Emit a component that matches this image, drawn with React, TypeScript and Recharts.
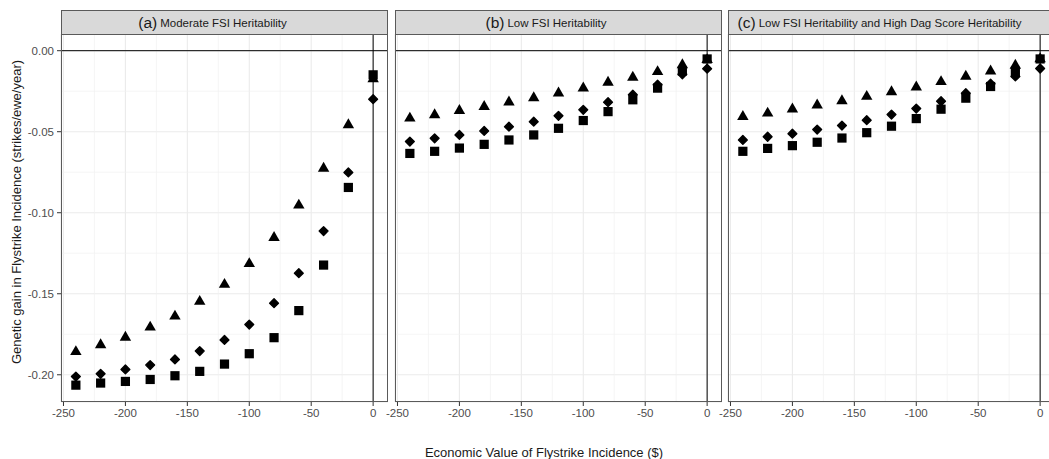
import React from "react";
import {
  CartesianGrid,
  ReferenceLine,
  Scatter,
  ScatterChart,
  XAxis,
  YAxis,
} from "recharts";

// economic value of flystrike incidence ($)
const economicValues = [-240, -220, -200, -180, -160, -140, -120, -100, -80, -60, -40, -20, 0];

// (a) moderate FSI heritability
const aTriangle = [-0.1858, -0.1816, -0.1769, -0.1707, -0.1639, -0.1548, -0.1443, -0.1315, -0.1154, -0.0954, -0.0726, -0.0458, -0.0175];
const aDiamond = [-0.2011, -0.1994, -0.1967, -0.194, -0.1905, -0.1854, -0.1785, -0.169, -0.1558, -0.1373, -0.1113, -0.0751, -0.0299];
const aSquare = [-0.2064, -0.2051, -0.2041, -0.2029, -0.2006, -0.1979, -0.1934, -0.187, -0.1771, -0.1604, -0.1323, -0.0844, -0.0149];

// (b) low FSI heritability
const bTriangle = [-0.0417, -0.0396, -0.037, -0.0345, -0.0318, -0.0291, -0.0262, -0.0231, -0.0196, -0.0165, -0.013, -0.0088, -0.0056];
const bDiamond = [-0.0561, -0.0541, -0.052, -0.0495, -0.0469, -0.0438, -0.0402, -0.0365, -0.0318, -0.0272, -0.021, -0.0146, -0.0111];
const bSquare = [-0.0634, -0.0621, -0.0601, -0.0578, -0.0551, -0.052, -0.0479, -0.0431, -0.0376, -0.0303, -0.0231, -0.0125, -0.0051];

// (c) low FSI heritability and high dag score heritability
const cTriangle = [-0.0407, -0.0386, -0.0361, -0.0336, -0.031, -0.0283, -0.0254, -0.0225, -0.0192, -0.0159, -0.0126, -0.0091, -0.0051];
const cDiamond = [-0.0551, -0.0531, -0.0512, -0.0487, -0.0462, -0.0429, -0.0394, -0.0357, -0.0312, -0.0262, -0.0204, -0.0159, -0.011];
const cSquare = [-0.0621, -0.0603, -0.0586, -0.0565, -0.0539, -0.0506, -0.0466, -0.0419, -0.0361, -0.0293, -0.0221, -0.0128, -0.0051];

const xTicks = [-250, -200, -150, -100, -50, 0];
const xMinor = [-225, -175, -125, -75, -25];
const yTicks = [-0.2, -0.15, -0.1, -0.05, 0];
const yMinor = [-0.175, -0.125, -0.075, -0.025];

const FONT = "'Liberation Sans', Arial, sans-serif";
const PANEL_W = 327;
const PLOT_TOP = 34;
const PLOT_BOTTOM = 402;

const toPoints = (ys: number[]) => economicValues.map((x, i) => ({ x, y: ys[i] }));

const Tri = (p: any) => {
  const { cx, cy } = p;
  const r = 6.6;
  return (
    <polygon
      points={`${cx},${cy - r} ${cx + r * 0.866},${cy + r / 2} ${cx - r * 0.866},${cy + r / 2}`}
      fill="#000"
    />
  );
};

const Dia = (p: any) => {
  const { cx, cy } = p;
  const r = 4.4;
  return (
    <polygon
      points={`${cx},${cy - r} ${cx + r},${cy} ${cx},${cy + r} ${cx - r},${cy}`}
      fill="#000"
      stroke="#000"
      strokeWidth={1.4}
      strokeLinejoin="round"
    />
  );
};

const Sq = (p: any) => {
  const { cx, cy } = p;
  const h = 4.6;
  return <rect x={cx - h} y={cy - h} width={h * 2} height={h * 2} fill="#000" />;
};

type PanelProps = {
  left: number;
  tag: string;
  title: string;
  tri: number[];
  dia: number[];
  sq: number[];
  showY?: boolean;
};

function Panel({ left, tag, title, tri, dia, sq, showY }: PanelProps) {
  const yW = showY ? 61 : 0;
  const pad = showY ? 0 : 20;
  const tick = { fontSize: 11.5, fill: "#4D4D4D", fontFamily: FONT };
  return (
    <>
      <div style={{ position: "absolute", left: left - yW - pad, top: 0 }}>
        <ScatterChart
          width={PANEL_W + yW + pad}
          height={PLOT_BOTTOM + 28}
          margin={{ top: PLOT_TOP, right: 0, bottom: 0, left: pad }}
        >
          <CartesianGrid stroke="#EBEBEB" strokeWidth={1.1} />
          {xMinor.map((v) => (
            <ReferenceLine key={"vx" + v} x={v} stroke="#F0F0F0" strokeWidth={0.7} />
          ))}
          {yMinor.map((v) => (
            <ReferenceLine key={"vy" + v} y={v} stroke="#F0F0F0" strokeWidth={0.7} />
          ))}
          <XAxis
            type="number"
            dataKey="x"
            domain={[-252, 12]}
            ticks={xTicks}
            allowDataOverflow
            height={28}
            axisLine={false}
            tickSize={4}
            tickMargin={3}
            tickLine={{ stroke: "#333" }}
            tick={tick}
            interval={0}
          />
          <YAxis
            type="number"
            dataKey="y"
            domain={[-0.2168, 0.0103]}
            ticks={yTicks}
            allowDataOverflow
            hide={!showY}
            width={yW}
            axisLine={false}
            tickSize={4}
            tickMargin={3}
            tickLine={{ stroke: "#333" }}
            tick={tick}
            interval={0}
            tickFormatter={(v: number) => v.toFixed(2)}
          />
          <ReferenceLine y={0} stroke="#000" strokeWidth={1} />
          <ReferenceLine x={0} stroke="#000" strokeWidth={1} />
          <Scatter data={toPoints(tri)} shape={Tri} isAnimationActive={false} />
          <Scatter data={toPoints(dia)} shape={Dia} isAnimationActive={false} />
          <Scatter data={toPoints(sq)} shape={Sq} isAnimationActive={false} />
        </ScatterChart>
      </div>
      <div
        style={{
          position: "absolute",
          left,
          top: PLOT_TOP,
          width: PANEL_W,
          height: PLOT_BOTTOM - PLOT_TOP,
          border: "1px solid #5a5a5a",
          boxSizing: "border-box",
          pointerEvents: "none",
        }}
      />
      <div
        style={{
          position: "absolute",
          left,
          top: 10,
          width: PANEL_W,
          height: 25,
          background: "#D9D9D9",
          border: "1px solid #5a5a5a",
          boxSizing: "border-box",
          display: "flex",
          alignItems: "center",
          justifyContent: "center",
          paddingRight: 24,
          fontFamily: FONT,
          color: "#1A1A1A",
          whiteSpace: "nowrap",
        }}
      >
        <span style={{ fontSize: 15.5 }}>{tag}</span>
        <span style={{ fontSize: 11.5, marginLeft: 3, paddingTop: 1 }}>{title}</span>
      </div>
    </>
  );
}

export default function App() {
  return (
    <div
      style={{
        position: "absolute",
        left: 0,
        top: 0,
        width: 1049,
        height: 459,
        overflow: "hidden",
        background: "#fff",
      }}
    >
      <Panel left={61} tag="(a)" title="Moderate FSI Heritability" tri={aTriangle} dia={aDiamond} sq={aSquare} showY />
      <Panel left={394.5} tag="(b)" title="Low FSI Heritability" tri={bTriangle} dia={bDiamond} sq={bSquare} />
      <Panel
        left={728}
        tag="(c)"
        title="Low FSI Heritability and High Dag Score Heritability"
        tri={cTriangle}
        dia={cDiamond}
        sq={cSquare}
      />
      <div
        style={{
          position: "absolute",
          left: 16,
          top: 212,
          transform: "translate(-50%, -50%) rotate(-90deg)",
          fontFamily: FONT,
          fontSize: 13,
          color: "#1A1A1A",
          whiteSpace: "nowrap",
        }}
      >
        Genetic gain in Flystrike Incidence (strikes/ewe/year)
      </div>
      <div
        style={{
          position: "absolute",
          left: 544,
          top: 452,
          transform: "translate(-50%, -50%)",
          fontFamily: FONT,
          fontSize: 13,
          color: "#1A1A1A",
          whiteSpace: "nowrap",
        }}
      >
        Economic Value of Flystrike Incidence ($)
      </div>
    </div>
  );
}
